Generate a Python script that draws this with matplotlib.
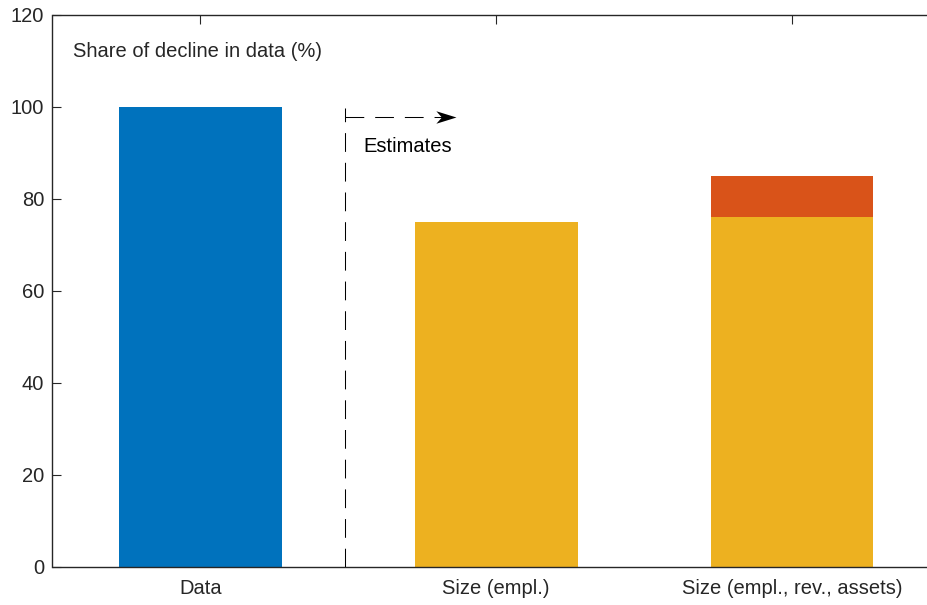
import matplotlib
matplotlib.use("Agg")
import matplotlib.pyplot as plt
from matplotlib.path import Path

plt.rcParams['font.family'] = ['Liberation Sans', 'DejaVu Sans']

categories = ["Data", "Size (empl.)", "Size (empl., rev., assets)"]
base_share = [100, 75, 76]
extra_share = [0, 0, 9]
yticks = [0, 20, 40, 60, 80, 100, 120]

blue = "#0072BD"
yellow = "#EDB120"
red = "#D95319"
axis_col = "#262626"
fs = 14.5

fig = plt.figure(figsize=(9.28, 6.05), dpi=100)
# axes runs a little past the right edge, as in the exported figure
ax = fig.add_axes([52.5 / 928, 1 - 566.7 / 605, (940 - 52.5) / 928, (566.7 - 14.5) / 605])

x = [1, 2, 3]
colors = [blue, yellow, yellow]
ax.bar(x, base_share, width=0.55, color=colors, linewidth=0, zorder=2)
ax.bar(x[2], extra_share[2], bottom=base_share[2], width=0.55, color=red,
       linewidth=0, zorder=2)

ax.set_xlim(0.5, 3.5)
ax.set_ylim(0, 120)
ax.set_xticks(x)
ax.set_xticklabels(categories)
ax.set_yticks(yticks)

for s in ax.spines.values():
    s.set_color(axis_col)
    s.set_linewidth(1.0)
ax.tick_params(direction="in", length=6.5, width=0.8, color=axis_col,
               labelcolor=axis_col, labelsize=fs, top=True, right=True)
ax.tick_params(axis="y", pad=6)
ax.tick_params(axis="x", pad=9)

# divider between data and model estimates
ax.plot([1.49, 1.49], [0, 99.7], color="k", lw=0.75, dashes=(18, 10.5), zorder=3)
ax.plot([1.49, 1.835], [97.8, 97.8], color="k", lw=0.75, dashes=(18, 10.5), zorder=3)
head = Path([(0, 0), (-2, 0.62), (-1.45, 0), (-2, -0.62), (0, 0)],
            [Path.MOVETO, Path.LINETO, Path.LINETO, Path.LINETO, Path.CLOSEPOLY])
ax.plot([1.865], [97.8], marker=head, markersize=29, color="k",
        markeredgewidth=0, zorder=4)

ax.text(1.552, 91.4, "Estimates", fontsize=fs, color="k", ha="left", va="center")
ax.text(0.568, 111.9, "Share of decline in data (%)", fontsize=fs,
        color=axis_col, ha="left", va="center")

fig.savefig("out.png", dpi=100)
